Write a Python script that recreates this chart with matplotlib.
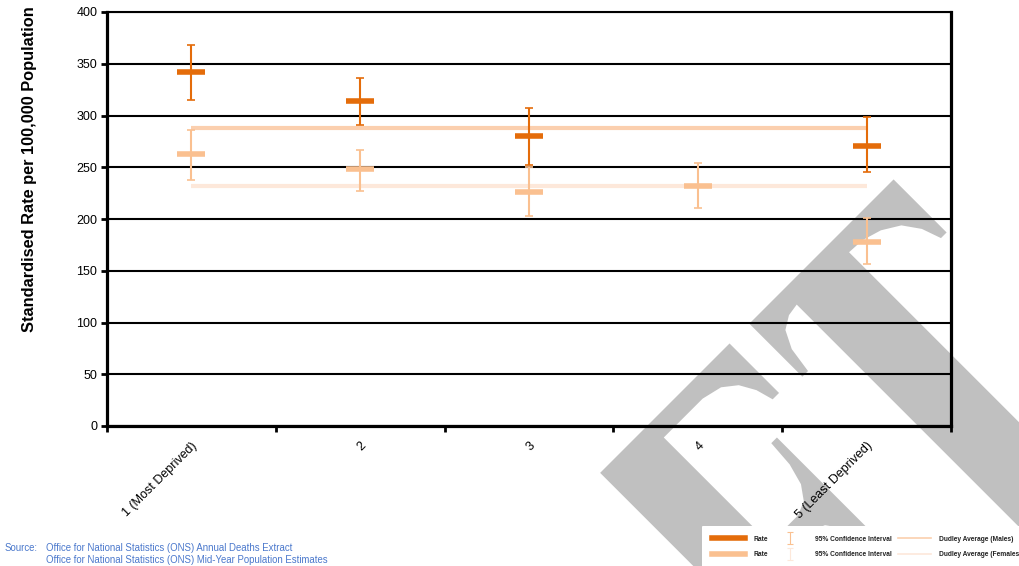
import numpy as np
import matplotlib
matplotlib.use("Agg")
import matplotlib.pyplot as plt
from matplotlib.lines import Line2D
from matplotlib.path import Path
from matplotlib.patches import Polygon

plt.rcParams['font.family'] = ['Liberation Sans', 'DejaVu Sans']

categories = ["1 (Most Deprived)", "2", "3", "4", "5 (Least Deprived)"]
males_rate = [342, 314, 280, np.nan, 271]
males_low = [315, 291, 252, np.nan, 245]
males_high = [368, 336, 307, np.nan, 299]
females_rate = [263, 248, 226, 232, 178]
females_low = [238, 227, 203, 211, 157]
females_high = [286, 267, 250, 254, 201]
dudley_males = 288
dudley_females = 232
yticks = [0, 50, 100, 150, 200, 250, 300, 350, 400]

C_M = '#E46C0A'
C_F = '#FAC090'
C_AM = '#FBCFAE'
C_AF = '#FDE8DA'

W, H = 1020, 566
fig = plt.figure(figsize=(W / 100, H / 100), dpi=100)
ax = fig.add_axes([107 / W, (H - 426) / H, 844 / W, 414 / H])
ax.set_facecolor('none')
ax.set_zorder(2)

# ---- watermark glyph outlines (letter frame: u along baseline, d below cap line), px
glyph_E = [(90, 0), (273, 0), (273, 70), (264, 70), (259, 52), (250, 36), (236, 25),
           (215, 20), (160, 20), (160, 170), (200, 170), (214, 164), (224, 150),
           (230, 128), (232, 100), (240, 100), (240, 265), (232, 265), (229, 238),
           (222, 210), (212, 196), (198, 190), (160, 190), (160, 350), (300, 350),
           (300, 380), (90, 380)]
glyph_T = [(301, 0), (505, 0), (505, 75), (497, 75), (490, 55), (478, 38), (460, 27),
           (440, 21), (422, 20), (422, 420), (348, 420), (348, 20), (335, 22),
           (322, 30), (313, 48), (309, 75), (301, 75)]
CAP = 1073.0
r2 = np.sqrt(2.0)
for g in (glyph_E, glyph_T):
    pts = []
    for u, d in g:
        px = (CAP + r2 * (u + d)) / 2.0
        py = (CAP + r2 * (d - u)) / 2.0
        pts.append((px / W, 1 - py / H))
    fig.add_artist(Polygon(pts, closed=True, transform=fig.transFigure,
                           facecolor='#c0c0c0', edgecolor='none', zorder=0))

x = np.arange(len(categories))
mr = np.array(males_rate, float)
fr = np.array(females_rate, float)
m_err = [mr - np.array(males_low, float), np.array(males_high, float) - mr]
f_err = [fr - np.array(females_low, float), np.array(females_high, float) - fr]

ax.set_ylim(0, 400)
ax.set_xlim(-0.5, len(categories) - 0.5)
ax.set_yticks(yticks)
ax.yaxis.grid(True, color='black', linewidth=1.5)
ax.set_axisbelow(True)

ax.plot([x[0], x[-1]], [dudley_males] * 2, color=C_AM, lw=3, zorder=2, solid_capstyle='butt')
ax.plot([x[0], x[-1]], [dudley_females] * 2, color=C_AF, lw=3, zorder=2, solid_capstyle='butt')

ax.errorbar(x, fr, yerr=f_err, fmt='none', ecolor=C_F,
            elinewidth=1.5, capsize=3, capthick=1.2, zorder=3)
ax.plot(x, fr, ls='none', marker='_', ms=20, mew=4, color=C_F, zorder=3)
ax.errorbar(x, mr, yerr=m_err, fmt='none', ecolor=C_M,
            elinewidth=1.5, capsize=3, capthick=1.2, zorder=4)
ax.plot(x, mr, ls='none', marker='_', ms=20, mew=4, color=C_M, zorder=4)

for s in ['left', 'right', 'bottom']:
    ax.spines[s].set_linewidth(2.3)
ax.spines['top'].set_linewidth(1.5)

ax.set_xticks(x)
ax.set_xticklabels(categories, rotation=45, ha='right', rotation_mode='anchor', fontsize=9)
ax.tick_params(axis='x', length=0, pad=10)
ax.set_xticks(np.arange(-0.5, len(categories) + 0.5, 1), minor=True)
ax.tick_params(axis='x', which='minor', length=4, width=2, direction='out')
ax.tick_params(axis='y', length=4, width=2, labelsize=9, pad=3)

fig.text(30 / W, 1 - 169 / H, "Standardised Rate per 100,000 Population",
         rotation=90, ha='center', va='center', fontsize=11.8, fontweight='bold')

# source
SRC = '#4A78CC'
fig.text(5 / W, 1 - 548 / H, "Source:", fontsize=6.9, color=SRC, va='center')
fig.text(46 / W, 1 - 548 / H, "Office for National Statistics (ONS) Annual Deaths Extract",
         fontsize=6.9, color=SRC, va='center')
fig.text(46 / W, 1 - 560 / H, "Office for National Statistics (ONS) Mid-Year Population Estimates",
         fontsize=6.9, color=SRC, va='center')

ibeam = Path([(-0.5, 1), (0.5, 1), (0, 1), (0, -1), (-0.5, -1), (0.5, -1)],
             [Path.MOVETO, Path.LINETO, Path.MOVETO, Path.LINETO, Path.MOVETO, Path.LINETO])
handles = [
    Line2D([], [], color=C_M, lw=4),
    Line2D([], [], color=C_F, lw=4),
    Line2D([], [], ls='none', marker=ibeam, ms=9, color=C_F, mew=0.8, fillstyle='none'),
    Line2D([], [], ls='none', marker=ibeam, ms=9, color=C_AF, mew=0.8, fillstyle='none'),
    Line2D([], [], color=C_AM, lw=1.2),
    Line2D([], [], color=C_AF, lw=1.2),
]
labels = ["Rate", "Rate", "95% Confidence Interval", "95% Confidence Interval",
          "Dudley Average (Males)", "Dudley Average (Females)"]
leg = fig.legend(handles, labels, ncol=3, loc='lower left', bbox_to_anchor=(702 / W, -2 / H),
                 frameon=True, facecolor='white', edgecolor='none',
                 framealpha=1, handlelength=5.0, columnspacing=0.9, borderpad=1.5,
                 labelspacing=1.25, handletextpad=1.2, borderaxespad=0,
                 prop={'weight': 'bold', 'size': 4.8})
for t in leg.get_texts():
    t.set_color('#222222')
leg.set_zorder(5)

fig.savefig("out.png", dpi=100)
